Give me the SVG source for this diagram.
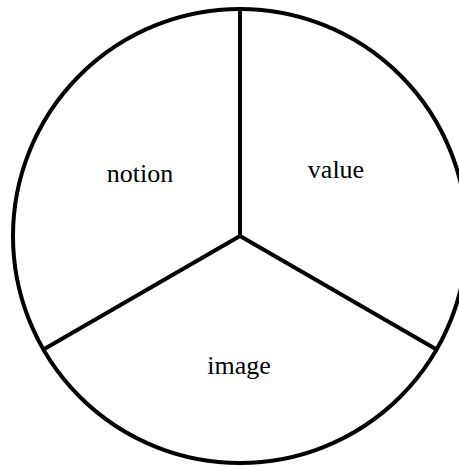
<svg xmlns="http://www.w3.org/2000/svg" width="459" height="466" viewBox="0 0 459 466">
<style>
.ln{fill:none;stroke:#000;stroke-width:4}
.t{font-family:"Liberation Serif","Times New Roman",serif;font-size:26px;fill:#000;text-anchor:middle}
</style>
<rect width="459" height="466" fill="#fff"/>
<g id="circle"><circle class="ln" cx="240" cy="236" r="227"/></g>
<g id="connectors">
<line class="ln" x1="240" y1="9" x2="240" y2="236"/>
<line class="ln" x1="240" y1="236" x2="43.4" y2="349.5"/>
<line class="ln" x1="240" y1="236" x2="436.6" y2="349.5"/>
</g>
<g id="notion"><text class="t" x="140" y="182">notion</text></g>
<g id="value"><text class="t" x="336" y="178">value</text></g>
<g id="image"><text class="t" x="239" y="374">image</text></g>
</svg>
